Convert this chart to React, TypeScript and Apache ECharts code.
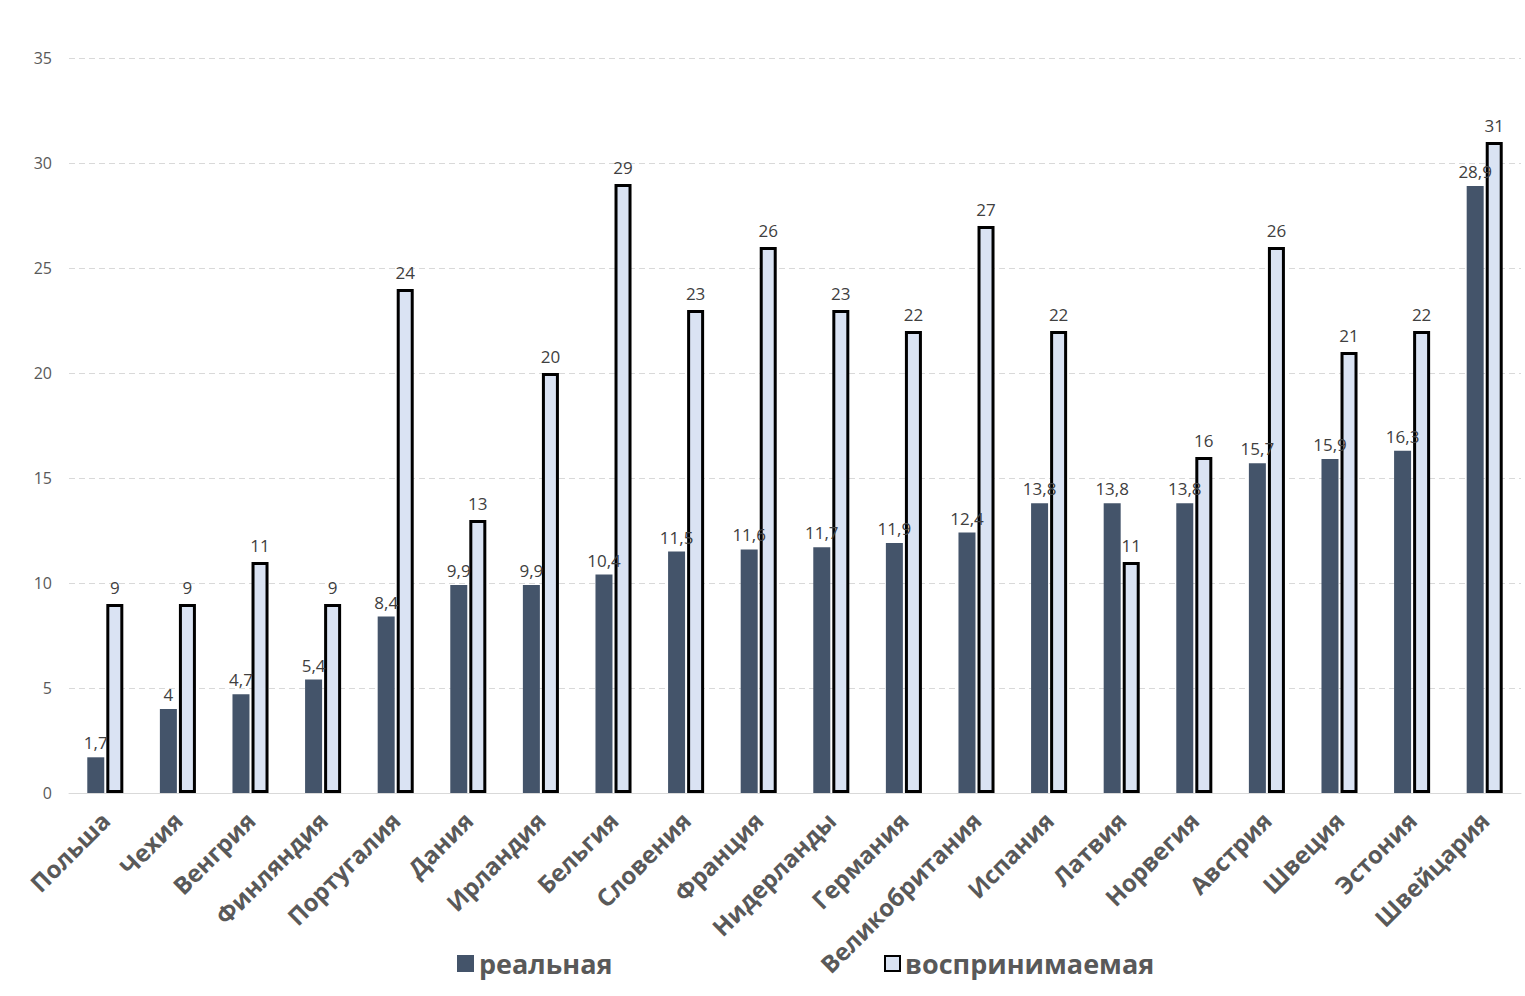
import React, { useEffect, useRef } from "react";
import * as echarts from "echarts";

const categories = [
  "Польша", "Чехия", "Венгрия", "Финляндия", "Португалия", "Дания", "Ирландия",
  "Бельгия", "Словения", "Франция", "Нидерланды", "Германия", "Великобритания",
  "Испания", "Латвия", "Норвегия", "Австрия", "Швеция", "Эстония", "Швейцария",
];
const realValues = [1.7, 4, 4.7, 5.4, 8.4, 9.9, 9.9, 10.4, 11.5, 11.6, 11.7, 11.9, 12.4, 13.8, 13.8, 13.8, 15.7, 15.9, 16.3, 28.9];
const perceivedValues = [9, 9, 11, 9, 24, 13, 20, 29, 23, 26, 23, 22, 27, 22, 11, 16, 26, 21, 22, 31];
const seriesNames = ["реальная", "воспринимаемая"];

const FONT = "'Open Sans', 'Noto Sans', sans-serif";
const fmt = (p: any) => String(p.value).replace(".", ",");

export default function App() {
  const ref = useRef<HTMLDivElement>(null);
  useEffect(() => {
    const chart = echarts.init(ref.current!, undefined, { renderer: "svg" });
    const legendText = { fontFamily: FONT, fontSize: 27, fontWeight: "bold", color: "#595959" };
    chart.setOption({
      animation: false,
      backgroundColor: "#ffffff",
      grid: { left: 69, right: 4, top: 58, bottom: 203, containLabel: false },
      legend: [
        {
          data: [{ name: seriesNames[0], icon: "rect" }],
          left: 452,
          top: 945,
          itemWidth: 17,
          itemHeight: 17,
          itemGap: 10,
          textStyle: legendText,
        },
        {
          data: [{ name: seriesNames[1], icon: "rect" }],
          left: 879,
          top: 945,
          itemWidth: 15,
          itemHeight: 15,
          itemGap: 10,
          textStyle: legendText,
        },
      ],
      xAxis: {
        type: "category",
        data: categories,
        axisLine: { show: true, lineStyle: { color: "#D9D9D9", width: 1 } },
        axisTick: { show: false },
        axisLabel: {
          rotate: 45,
          interval: 0,
          margin: 23,
          fontFamily: FONT,
          fontSize: 24,
          fontWeight: "bold",
          color: "#595959",
        },
      },
      yAxis: {
        type: "value",
        min: 0,
        max: 35,
        interval: 5,
        axisLine: { show: false },
        axisTick: { show: false },
        splitLine: { lineStyle: { color: "#D9D9D9", type: [6, 4], width: 1 } },
        axisLabel: { fontFamily: FONT, fontSize: 16, color: "#595959", margin: 17 },
      },
      series: [
        {
          name: seriesNames[0],
          type: "bar",
          data: realValues,
          barWidth: 17,
          barGap: "12%",
          itemStyle: { color: "#44546A" },
          label: {
            show: true,
            position: "top",
            distance: 6,
            formatter: fmt,
            fontFamily: FONT,
            fontSize: 17,
            color: "#404040",
          },
        },
        {
          name: seriesNames[1],
          type: "bar",
          data: perceivedValues,
          barWidth: 17,
          itemStyle: { color: "#DAE3F3", borderColor: "#000000", borderWidth: 3 },
          label: {
            show: true,
            position: "top",
            distance: 8,
            formatter: fmt,
            fontFamily: FONT,
            fontSize: 17,
            color: "#404040",
          },
        },
      ],
    });
    return () => chart.dispose();
  }, []);
  return (
    <div
      ref={ref}
      style={{ position: "fixed", left: 0, top: 0, width: 1525, height: 996 }}
    />
  );
}
